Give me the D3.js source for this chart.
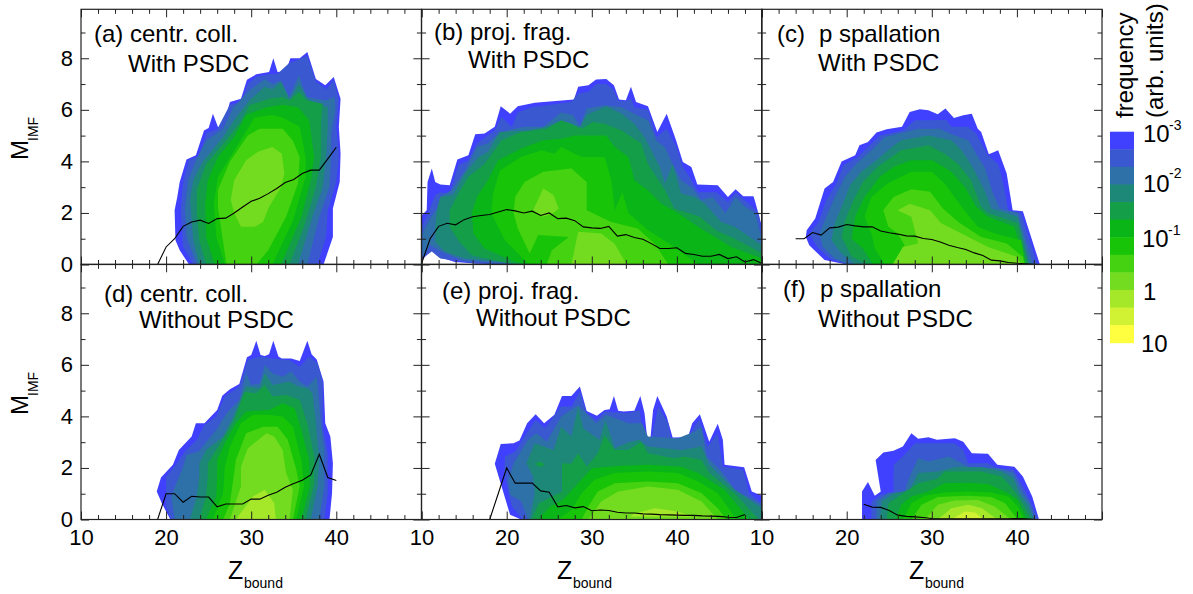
<!DOCTYPE html>
<html>
<head>
<meta charset="utf-8">
<script src="https://cdn.jsdelivr.net/npm/d3@7"></script>
<style>
  body { margin: 0; background: #fff; }
  text { font-family: "Liberation Sans", Arial, sans-serif; fill: #000; }
</style>
</head>
<body>
<div class="chart"></div>
<script>
// band colours, lowest frequency first
const levelColors = ['#4040ff','#3a58d0','#2e70a8','#1e8878','#149e48','#0ab518','#18c408','#45d210','#74dc20','#a5e82a','#d0f232','#ffff40']

// contour outlines per panel, [Zbound, MIMF]
const contoursA = [
  [[22.7,0],[21.6,.55],[21.1,.94],[21,2.1],[21.3,2.6],[21.6,3.2],[22.4,4.07],[23.5,4.24],[24.45,5.2],[25,5.3],[25.5,5.85],[26.1,5.33],[26.7,5.33],[27.5,6.3],[28.8,6.43],[29.5,7.17],[30.6,7.38],[32.1,7.47],[32.6,8],[33.1,7.47],[34.1,7.5],[34.6,8],[35.7,8],[36.6,8.24],[37.6,7.2],[38.7,6.95],[39.7,7.27],[40.5,6.43],[40.3,5.34],[40.5,4.3],[40.4,3.2],[39.6,2.17],[39.6,1.07],[38.5,0]],
  [[23.2,0],[22,.68],[21.7,2.1],[22,3.2],[22.7,4.05],[23.8,4.2],[24.8,5.1],[26,5.25],[27.5,6.2],[28.8,6.3],[29.6,7],[30.6,7.28],[32.1,7.38],[33.1,7.4],[34.4,7.8],[36.6,8.1],[37.6,7.1],[38.8,6.8],[39.7,7.15],[40.3,6.4],[40,5.34],[40.3,4.2],[40,3.2],[39,2.1],[38.8,1.07],[37.8,0]],
  [[23.6,0],[22.4,1.07],[22.2,2.2],[22.6,3.27],[23.5,4.04],[24.7,4.8],[26.7,5.27],[27.9,6.1],[29.8,6.75],[31.6,7.2],[32.5,7],[33.5,7.14],[34.5,6.5],[35.6,7.34],[36.5,6.5],[38.8,6.37],[39.8,6.5],[39.9,6],[39.4,5.08],[39.4,4.17],[39.2,3],[38,1.85],[36.6,0]],
  [[23.9,0],[23.2,.94],[22.8,2.5],[23.2,3.27],[24.3,4],[26.7,4.95],[28.2,5.7],[29.8,6.37],[31.6,6.9],[32.5,6.8],[33.5,7.08],[34.5,6.4],[35.6,7],[36.7,6.4],[39,6.1],[39,5.34],[38.8,4.17],[38.4,3],[37.2,1.85],[35.5,0]],
  [[24.7,0],[23.9,.94],[23.6,2],[23.6,2.9],[24.7,3.9],[27,4.8],[28.6,5.46],[29.8,6.18],[32.1,6.43],[33.7,6.5],[34.5,6.37],[35.6,6.7],[36.5,6.37],[38.4,6.24],[38.2,5.6],[38.2,4.17],[37.6,3],[36.2,1.46],[34.5,0]],
  [[25.7,0],[24.7,1.07],[24.6,2.36],[24.9,3.27],[26.1,4.17],[28,4.95],[29.4,5.8],[31.8,6.1],[33.7,6.2],[35.5,6.1],[36.8,5.6],[37.4,4.17],[37,3.27],[35.9,1.85],[33.5,0]],
  [[26.9,0],[25.9,1.07],[25.6,2.36],[26.1,3.4],[27.3,4.04],[29,4.95],[30.4,5.7],[32.5,5.8],[33.7,5.7],[35.7,5.34],[36.4,4.17],[36.4,3.4],[34.9,1.7],[32.5,0]],
  [[27.1,0],[26.1,2.2],[26.1,2.9],[27.5,4],[29.6,5],[31,5.27],[33.7,5.27],[34.9,4.8],[35.7,4.17],[35.5,3.14],[34.1,1.85],[32,.55],[30.6,0]],
  [[28.8,1.46],[28,2],[27.6,2.5],[28,3.27],[29.4,4.04],[30.8,4.37],[32.5,4.56],[33.6,4.3],[33.9,3.53],[33.5,3],[32.1,2.24],[31.4,1.65],[30.4,1.46],[29.6,1.46]]
]
const contoursB = [
  [[10,.17],[11.2,.55],[12,.3],[13.9,.1],[16.3,.04],[20,0],[50,0],[50,1.46],[49.2,2.43],[49,2.65],[47.8,2.65],[46.9,2.92],[46,2.62],[44.8,3.07],[42.4,3.1],[41.7,3.78],[40.7,3.98],[39.9,4.82],[38.8,5.85],[37.7,5.14],[36.6,6.14],[35.2,6.3],[34.6,6.9],[34,6.37],[33.2,6.4],[32.6,6.95],[31.7,7.2],[30.5,7.18],[29.6,6.95],[28.4,6.9],[27.9,6.4],[23.3,6.27],[21.3,6.14],[20.4,5.85],[19.3,6.14],[18.6,5.34],[17.4,5.08],[16.3,5.05],[15.5,4.24],[14.2,4.07],[13.3,3.07],[12.2,3.1],[11.6,3.2],[11.2,3.72],[10.7,3.2],[10.6,2.1],[10,1.9]],
  [[10,.23],[11.2,.5],[12.2,.23],[16.3,.04],[22.5,0],[50,0],[50,1.2],[49.6,2],[48.2,2.43],[46.9,2.78],[46,2.43],[44.6,2.8],[42.5,2.8],[41.3,3.5],[40.7,3.78],[39.9,4.6],[38.8,5.27],[37.6,4.95],[36.6,6],[35,6.1],[34.6,6.43],[34,6.34],[33.1,6.37],[32.5,6.8],[31.7,7],[30.5,7],[29.6,6.7],[28.4,6.63],[27.6,6.3],[22.9,6.1],[21.3,5.9],[20.6,5.34],[19.4,5.72],[18.6,5.2],[16.5,4.7],[15.5,4.04],[14.3,3.85],[13.3,2.75],[12.2,2.8],[11.6,2.7],[10.6,1.85],[10,1.46]],
  [[10.1,.3],[11,.75],[12.3,.5],[14.7,.17],[20.6,0],[50,0],[50,.94],[49.2,2],[48,2.24],[46.9,2.62],[45.7,2],[44.2,2.62],[42.9,2.5],[41.7,3],[40.5,3.27],[39.5,3.9],[38.6,4.56],[37.6,4.8],[36.6,5.6],[35,5.85],[33.5,6.1],[31.5,6.18],[29.4,6.05],[28.6,5.34],[27.8,5.8],[26.4,5.9],[24.3,5.34],[22.1,5.34],[19.2,5.14],[17.8,4.7],[16.5,4.56],[15.1,3.65],[13.5,2.88],[12.2,2.62],[11.8,2.17],[11,1.78],[10.1,1.2]],
  [[11.6,.88],[12.7,.5],[15.1,.23],[19.4,.1],[21,0],[50,0],[50,.75],[46.8,1.46],[45.2,1.65],[43.3,2.36],[42.1,2.62],[40.5,2.75],[39.5,3.9],[38.6,3.14],[38,3.78],[36.2,4.95],[35,5.46],[33.5,5.85],[31.7,6.14],[29.4,5.8],[28.6,5.34],[27.6,5.34],[26,5.53],[24.7,5.34],[22.5,5.2],[19.2,5.14],[17.8,4.37],[16.7,4.17],[15.1,3.53],[13.7,2.7],[12.2,2.62],[11.8,2.1],[11.6,1.46]],
  [[14.3,.94],[15.9,.36],[19.4,.1],[21.7,0],[50,0],[50,.44],[46.8,1],[44.6,1.33],[42.7,1.85],[39.7,2.17],[38.6,2.88],[36.6,3.9],[35.8,4.7],[33.5,5.2],[31.5,5.46],[30.1,5.53],[28.8,5.27],[27.6,5.46],[26.4,5.6],[24.7,5.27],[21.7,5.14],[19.4,4.82],[17.4,3.9],[15.5,3.4],[14.1,2.62],[13.3,2.1],[13.3,1.46]],
  [[16.1,1.2],[17.4,.62],[21,.1],[22.5,0],[50,0],[50,.23],[46.4,.68],[42.8,1.4],[40.1,2],[38.2,2.36],[36.6,2.88],[35,3.27],[34.3,4.17],[32.7,4.56],[31.7,5],[28,5],[26.4,4.88],[24.3,4.82],[21.7,4.5],[19,4.04],[17.8,3.27],[16.5,2.62],[15.9,2]],
  [[18.2,2],[19.8,.94],[22.5,.04],[22.7,0],[42.5,0],[39.7,.68],[36.6,1.33],[34.3,2],[33.6,2.8],[32.7,2.1],[32.3,3.27],[31.5,4.17],[28.8,4.17],[26.4,4.56],[25.6,4.3],[24.1,4.43],[21.7,4.17],[19.2,3.65],[18.4,2.75]],
  [[21.3,1.4],[20.8,2],[21,2.62],[22.1,3.2],[24.3,3.6],[27.6,3.72],[29.4,3.2],[29.4,2.1],[32.3,1.65],[35.4,1.4],[37.4,.8],[39,0],[24.7,0],[25.3,.55],[27.3,1.07],[23.7,1.14],[22.7,.43]],
  [[24.3,2.95],[25.5,2.7],[26.1,2.17],[25.5,2],[24.3,1.85],[23.1,2.1]]
]
// second lobe of the ninth band in panel (b)
const lobeB = [[27.6,0],[28.4,1.27],[31.1,1.2],[32.7,.8],[34.1,0]]
const contoursC = [
  [[20,0],[17.4,.17],[15.6,.75],[15.2,1.07],[15.3,1.33],[16.3,1.78],[17.4,2.95],[18.4,3.2],[19.4,4],[21,4.24],[21.5,4.63],[22.5,4.75],[23.5,5.12],[24.7,5.25],[26.5,5.34],[27.4,5.92],[28.6,6.02],[29.6,5.98],[30.7,5.83],[31.6,6.05],[32.6,5.68],[33.7,5.79],[34.7,5.85],[35.4,5.27],[35.8,5.14],[36.7,4.28],[37.8,4.43],[38.8,3.53],[39.5,2.1],[40.7,2.07],[42.7,0]],
  [[20,0],[18,.23],[16.5,.68],[15.6,1.2],[16.7,1.65],[17.6,2.5],[18.8,3.14],[19.6,3.85],[21.3,4.17],[22.7,4.63],[23.9,5],[26.6,5.2],[28,5.6],[30,5.6],[31.7,5.62],[32.3,5.34],[34.3,5.34],[35.2,5.08],[36.6,4.24],[37.8,3.9],[38.4,3.14],[39,2.1],[40.5,2],[42.4,0]],
  [[20.2,0],[18.6,.23],[17.2,.68],[16.8,1.2],[17.6,1.85],[18.6,2.62],[19.8,3.4],[21.1,3.9],[22.9,4.43],[24.5,4.95],[28.4,5.27],[30.9,5.27],[32.7,5],[34.3,4.82],[35.2,4.3],[36.2,3.78],[37.2,2.75],[38,2.17],[40.1,2],[41.9,0]],
  [[21,0],[19.4,.43],[18.2,.94],[18.6,1.6],[19.4,2.24],[20.4,3.07],[21.7,3.6],[23.5,4.04],[25.3,4.56],[26.4,4.82],[29.6,5],[32.3,4.82],[33.5,4.43],[34.6,3.9],[36.2,2.88],[37,2.17],[40.1,1.85],[41.5,0]],
  [[22.5,0],[20.6,.3],[19.4,1.07],[19.8,1.7],[20.8,2.5],[21.9,3.2],[23.6,3.78],[26.4,4.43],[29.6,4.63],[31.5,4.3],[33.1,3.9],[34.6,3.27],[35.8,2.24],[36.6,2],[40.1,1.6],[41.3,0]],
  [[23.1,0],[21.9,.62],[20.6,1],[21,1.85],[22.1,2.62],[23.9,3.4],[25.6,3.8],[27.6,4.04],[30.1,4.04],[32.3,3.6],[33.9,3],[35.2,2.24],[36.6,1.85],[39.7,1.46],[41.1,0]],
  [[24.5,0],[23.3,.62],[22.9,1.2],[22.1,1.85],[22.9,2.62],[24.8,3.14],[27.6,3.6],[30,3.6],[31.5,3.14],[33.5,2.24],[35.4,1.46],[37.4,1.2],[40.5,.94],[41,0]],
  [[24.3,2.1],[25.5,2.62],[27.6,2.92],[29.8,2.82],[31.3,2.17],[33.1,1.65],[35.8,1.07],[38.8,.81],[40.7,.3],[40.9,0],[25.4,0],[26.8,.75],[26,1.2],[24.9,1.46]],
  [[26,2.1],[27.4,2.36],[29.8,2.1],[31.1,1.6],[33.5,1.2],[36.6,.68],[40,.3],[40.5,0],[25.4,0],[26.6,.68],[28.4,.81],[28,1.33],[27.6,1.85]]
]
const contoursD = [
  [[20.5,0],[19.5,.63],[18.9,1.09],[19.4,1.63],[20.8,2.12],[21.5,2.7],[23,3.22],[23.5,3.73],[24.5,3.73],[26,4.25],[26.6,4.8],[27.5,5.05],[28.6,5.26],[29.5,6.29],[30,6.38],[30.6,6.93],[31.1,6.38],[31.6,6.34],[32.1,6.41],[32.6,6.93],[33.2,6.32],[33.6,6.25],[34.7,6.25],[35.7,6.15],[36.6,6.93],[37.1,6.41],[37.7,6.21],[38.5,5.35],[38.7,3.73],[39.3,3.22],[39.6,2.18],[39.5,1.02],[39.2,0]],
  [[20.6,0],[20,.5],[20,1.15],[20,1.67],[21.3,2.18],[22.2,2.64],[23.6,3.09],[24.5,3.67],[25.9,4],[26.9,4.77],[28.6,5.16],[29.6,6.19],[31,6.32],[32.5,6.25],[34.5,6.19],[35.7,5.93],[36.8,6.32],[37.8,6.06],[38.4,5.35],[38.4,3.6],[39,2.57],[39,1.02],[38.6,0]],
  [[21,0],[20.6,.89],[21.2,1.41],[22,2.05],[22.4,2.5],[23.8,2.64],[25.9,3.48],[27.1,4.12],[28.6,4.64],[29.4,5.67],[30,5.22],[31,5.28],[31.6,5.99],[32.5,5.67],[33.7,5.54],[34.7,5.74],[35.7,5.35],[36.6,5.16],[37.7,5.54],[37.9,4.9],[38.2,3.73],[38.6,2.7],[38.6,1.28],[38,0]],
  [[22.8,0],[23.6,.89],[23.9,1.67],[23.9,2.18],[24.7,2.7],[26.7,3.22],[27.9,4],[29.4,5.16],[31,5.09],[31.6,5.67],[32.5,5.22],[34.5,5.35],[35.5,5.16],[36.6,5.09],[37.2,4.9],[37.6,3.73],[38,2.31],[37.8,1.28],[37,0]],
  [[23.9,0],[24.7,.89],[24.9,1.67],[24.9,2.18],[27.1,3.35],[28,3.86],[29,4.77],[29.2,4.96],[30.6,4.9],[31.6,5.22],[32.5,4.77],[34.1,4.83],[35.7,4.64],[36.6,3.73],[37.4,2.44],[37.4,1.41],[36.4,0]],
  [[24.7,0],[25.9,.89],[26,1.8],[26,2.31],[27.1,3.09],[28.2,3.73],[29.4,4.19],[32.1,4.25],[33.7,4.51],[35.1,4.32],[35.9,3.48],[36.8,2.31],[36.9,1.28],[35.9,0]],
  [[25.5,0],[26.7,1.02],[26.9,2.05],[27.5,2.83],[28.8,3.73],[30.2,4.06],[32,4.06],[33.7,4],[34.9,3.6],[35.9,2.31],[36.2,1.28],[35.3,0]],
  [[26.7,0],[27.5,.63],[28,1.8],[28.2,2.31],[29.4,3.35],[31.4,3.6],[33.1,3.6],[34.3,3.09],[35.3,1.93],[35.7,1.28],[34.9,0]],
  [[27.5,0],[28.8,1.28],[28.8,2.05],[29.6,2.76],[31.8,3.35],[32.7,3.22],[33.7,2.7],[34.1,1.8],[34.9,1.15],[34.5,0]],
  [[28.2,0],[30.2,.89],[31.6,1.15],[32.7,.63],[32.9,0]]
]
const contoursE = [
  [[21.7,0],[20.4,.18],[18.6,2.16],[19.3,2.93],[20.8,2.96],[21.5,3.06],[22.4,3.73],[23.4,4.08],[24.4,3.73],[25.6,4.06],[26.5,4.79],[27.6,4.79],[28.6,5.16],[29.4,4.21],[30.6,4.02],[31.5,4.25],[32.1,4.28],[32.6,4.79],[33.1,4.22],[33.7,4.19],[35,4.22],[35.7,4.79],[36.2,4.12],[36.5,3.18],[36.9,3.18],[37.2,4.25],[37.7,4.79],[38.8,4],[39.5,3.18],[41.3,3.19],[41.8,3.73],[42.7,4.08],[43.8,3.02],[44.8,3.71],[45.4,3.09],[45.6,2.12],[47.9,2.03],[48.8,1.09],[50,.92],[50,0]],
  [[21.9,0],[20.6,.5],[19.7,1.8],[19.8,2.44],[21,2.64],[22.1,3.22],[23.4,3.86],[24.5,3.54],[26.4,4.38],[27.6,4.38],[28.6,4.96],[29.4,4.12],[30.6,3.86],[31.5,4.19],[34.3,4.12],[35.6,4.25],[36.2,3.09],[37,3.09],[37.8,4.38],[39,3.73],[39.3,3.09],[41.1,3.09],[42.6,3.86],[43.6,2.83],[44.8,3.35],[45.4,2.05],[47.8,1.93],[48.5,1.02],[50,.63],[50,0]],
  [[22.5,0],[21.7,.7],[20.4,.96],[20.2,1.54],[20.8,2.18],[22.5,3.09],[23.5,3.35],[24.7,3.02],[26.4,4],[28.4,4.44],[30.5,3.73],[31.7,4.06],[34.3,3.73],[35.9,3.73],[36.6,3.22],[40.1,3.15],[42.1,3.41],[42.9,3.6],[43.5,2.44],[45.4,1.8],[46.8,1.15],[50,.57],[50,0]],
  [[22.7,0],[23.3,1.02],[23.1,1.67],[22.3,2.18],[23.3,2.96],[25.5,2.7],[26.4,3.6],[27.6,3.22],[28.4,4.38],[29,3.54],[30.9,3.09],[31.6,3.86],[32.7,2.76],[34.3,3],[35.6,3.09],[36.6,2.83],[40.5,2.7],[42.9,2.83],[43.8,2.12],[45.4,1.6],[46.8,1.15],[50,.44],[50,0]],
  [[22.9,0],[23.8,.63],[26.5,1.09],[26.5,2.18],[27.6,2.16],[28.4,2.57],[29.4,2.05],[30.7,2.57],[31.5,3.28],[32.7,2.7],[34.3,2.7],[35.8,3.02],[36.6,2.57],[39.7,2.38],[40.9,2.44],[42.9,2.31],[43.8,1.8],[46.8,1.02],[49.6,0]],
  [[23.7,0],[25.1,.5],[26.6,.76],[28.4,1.41],[30,1.99],[33.1,2.08],[36.6,2.12],[40.5,2.05],[42.5,1.8],[45.6,1.15],[48.5,0]],
  [[26,0],[27.6,.37],[28.8,1.02],[30.3,1.54],[32.7,1.8],[36.6,1.86],[40.1,1.8],[42.5,1.47],[44.8,1.02],[47,0]],
  [[28.8,0],[29.6,.5],[30.7,1.09],[32.7,1.41],[36.6,1.47],[40.1,1.41],[42.9,1.02],[44.8,.44],[45.8,0]],
  [[29.6,0],[31.1,.7],[33.1,1.09],[36.6,1.28],[40.1,1.15],[42.9,.7],[44.8,0]],
  [[34.5,.12],[35,.22],[37.4,.44],[40.1,.31],[41.7,.12]]
]
// small spot of the fifth band inside panel (e)
const spotE = [[23.3,2.16],[23.9,2.25],[24.5,2.12],[23.9,2.03]]
const contoursF = [
  [[21.8,0],[21.8,1.09],[22.5,1.45],[23.3,.92],[24,1.09],[23.4,2.31],[24.3,2.6],[25.5,2.67],[26.6,2.83],[27.6,3.35],[28.4,3.13],[29.6,3.19],[30.6,3.09],[32.7,3.15],[33.7,3.02],[34.7,2.57],[36.6,2.55],[37.7,2.12],[39.7,2.05],[40.7,1.67],[41.8,.89],[42.6,0]],
  [[22.9,0],[22.9,.7],[24,.96],[25.5,1.09],[25.5,2.12],[26.6,2.44],[28,2.96],[32.7,2.96],[33.7,2.7],[34.3,2.18],[36.6,2.18],[37.7,1.99],[39.6,1.93],[40.7,1.28],[41.7,.63],[42.5,0]],
  [[23.5,0],[23.5,.7],[24.9,1.02],[26.8,1.09],[27.4,1.67],[28.4,2.38],[29.6,2.25],[32,2.44],[34.3,2.05],[37.8,1.99],[39.6,1.8],[40.5,1.15],[41.5,.63],[42.2,0]],
  [[23.9,0],[24.1,.7],[25.6,1.02],[27.4,1.15],[28.4,1.8],[30.7,1.86],[32.7,2.03],[35.8,2.03],[38.2,1.86],[39.6,1.6],[40.3,1.02],[41.3,.57],[42,0]],
  [[24.7,0],[24.9,.63],[26.4,.96],[28.4,1.41],[30.7,1.58],[31.5,1.86],[35.8,1.86],[38.2,1.67],[39.3,1.28],[39.9,1.02],[40.9,.5],[41.7,0]],
  [[25.8,0],[26.4,.57],[27.6,.89],[29.6,1.09],[31.5,1.41],[34.3,1.43],[36.6,1.38],[39,1.02],[40.1,.76],[41.2,0]],
  [[26.6,0],[27.6,.63],[29.2,.92],[31.5,1.05],[34.3,1.09],[37,1.05],[39,.89],[40.1,.5],[40.9,0]],
  [[27.6,0],[28.8,.57],[30.7,.87],[34.3,.92],[37,.87],[38.6,.63],[40.1,0]],
  [[29.2,0],[30.7,.57],[32.7,.74],[35.4,.76],[37.4,.5],[39.3,0]],
  [[30.7,0],[32.3,.44],[34.3,.57],[35.9,.44],[37.7,0]],
  [[32.3,0],[33.9,.31],[35.1,.27],[36.1,0]]
]

// mean multiplicity lines
const meanZA = [19,20,21,22,23,24,25,26,27,28,29,30,31,32,33,34,35,36,37,38,39,40]
const meanMA = [0,.68,1,1.48,1.65,1.72,1.59,1.78,1.8,2,2.23,2.45,2.57,2.75,2.95,3.18,3.3,3.53,3.66,3.66,4.1,4.55]
const meanZB = [10,11,12,13,14,15,16,17,18,19,20,21,22,23,24,25,26,27,28,29,30,31,32,33,34,35,36,37,38,39,40,41,42,43,44,45,46,47,48,49,50]
const meanMB = [.04,1,1.48,1.6,1.54,1.74,1.85,1.9,1.94,2.04,2.13,2.08,2,2.07,1.9,2,1.78,1.8,1.7,1.46,1.42,1.4,1.48,1.1,1.16,1.05,.98,.81,.62,.62,.65,.43,.39,.32,.32,.39,.23,.3,.1,.19,.04]
const meanZC = [14,15,16,17,18,19,20,21,22,23,24,25,26,27,28,29,30,31,32,33,34,35,36,37,38,39,40,41,42]
const meanMC = [1,1,1.24,1.14,1.42,1.45,1.55,1.5,1.46,1.46,1.3,1.23,1.18,1.11,1.1,1.01,.97,.87,.75,.66,.58,.45,.35,.17,.14,.08,.05,.03,.01]
const meanZD = [19,20,21,22,23,24,25,26,27,28,29,30,31,32,33,34,35,36,37,38,39,40]
const meanMD = [0,1,1,.67,.9,.87,.87,.49,.6,.6,.6,.79,.79,.94,1.06,1.25,1.4,1.52,1.73,2.53,1.63,1.51]
const meanZE = [18,19,20,21,22,23,24,25,26,27,28,29,30,31,32,33,34,35,36,37,38,39,40,41,42,43,44,45,46,47,48]
const meanME = [0,1,2,1.41,1.41,1.41,1.11,1.06,.49,.54,.45,.5,.34,.37,.35,.28,.25,.25,.22,.21,.19,.18,.17,.16,.16,.14,.13,.12,.09,.08,.19]
const meanZF = [22,23,24,25,26,27,28,29,30,31,32,33,34,35,36,37,38,39,40,41,42]
const meanMF = [.59,.48,.47,.35,.17,.12,.1,.08,.04,.03,.03,.03,.03,.03,.03,.03,.03,.03,.04,.03,.01]

const xMajor = [10,20,30,40,50]
const xMinor = [12,14,16,18,22,24,26,28,32,34,36,38,42,44,46,48]
const yMajor = [0,2,4,6,8]
const yMinor = [1,3,5,7,9]
const xLabels = [10,20,30,40]

const legendLevels = d3.range(levelColors.length)

const width = 1193, height = 594
const svg = d3.select(".chart").append("svg")
  .attr("width", width)
  .attr("height", height)
  .style("display", "block")

const colLeft = [81, 421.6, 761.6]
const panelW = 340.4
const rowTop = [9.3, 264.3]
const panelH = 255.2

function textAt(x, y, str, size, rot) {
  const t = svg.append("text").attr("font-size", size).text(str)
  if (rot) t.attr("transform", `translate(${x},${y}) rotate(-90)`)
  else t.attr("x", x).attr("y", y)
  return t
}

function addTicks(g, axis, tx, ty, size) {
  g.append("g")
    .attr("transform", `translate(${tx},${ty})`)
    .call(axis.tickSize(size).tickSizeOuter(0).tickFormat(""))
    .call(a => a.select(".domain").remove())
    .call(a => a.selectAll("line").attr("stroke", "#222").attr("stroke-width", 1))
}

function drawPanel(col, row, contours, meanZ, meanM, extra, extraLevel) {
  const left = colLeft[col], top = rowTop[row]
  const x = d3.scaleLinear().domain([10, 50]).range([left, left + panelW])
  const y = d3.scaleLinear().domain([0, 9.9]).range([top + panelH, top])
  const g = svg.append("g")
  const area = d3.line().x(d => x(d[0])).y(d => y(d[1]))

  g.selectAll(".band")
    .data(contours)
    .enter()
    .append("path")
    .attr("d", d => area(d) + "Z")
    .attr("fill", (d, i) => levelColors[i])

  if (extra) {
    g.append("path").attr("d", area(extra) + "Z").attr("fill", levelColors[extraLevel])
  }

  g.append("path")
    .datum(meanZ.map((z, i) => [z, meanM[i]]))
    .attr("d", area)
    .attr("fill", "none")
    .attr("stroke", "#000")
    .attr("stroke-width", 1.1)

  // ticks point into the panel on all four sides
  const sides = [
    [() => d3.axisBottom(x), 0, top + panelH, xMajor, xMinor],
    [() => d3.axisTop(x), 0, top, xMajor, xMinor],
    [() => d3.axisLeft(y), left, 0, yMajor, yMinor],
    [() => d3.axisRight(y), left + panelW, 0, yMajor, yMinor]
  ]
  sides.forEach(s => {
    addTicks(g, s[0]().tickValues(s[3]), s[1], s[2], -8)
    addTicks(g, s[0]().tickValues(s[4]), s[1], s[2], -4.5)
  })

  g.append("rect")
    .attr("x", left).attr("y", top)
    .attr("width", panelW).attr("height", panelH)
    .attr("fill", "none")
    .attr("stroke", "#222")
    .attr("stroke-width", 1.2)

  if (col == 0) {
    g.append("g")
      .attr("transform", `translate(${left},0)`)
      .call(d3.axisLeft(y).tickValues(yMajor).tickSize(0).tickPadding(8))
      .call(a => a.select(".domain").remove())
      .call(a => a.selectAll("text").attr("font-size", 22).attr("font-family", '"Liberation Sans", Arial, sans-serif'))
  }
  if (row == 1) {
    g.append("g")
      .attr("transform", `translate(0,${top + panelH})`)
      .call(d3.axisBottom(x).tickValues(xLabels).tickSize(0).tickPadding(10))
      .call(a => a.select(".domain").remove())
      .call(a => a.selectAll("text").attr("font-size", 22).attr("font-family", '"Liberation Sans", Arial, sans-serif'))
  }
}

drawPanel(0, 0, contoursA, meanZA, meanMA)
drawPanel(1, 0, contoursB, meanZB, meanMB, lobeB, 8)
drawPanel(2, 0, contoursC, meanZC, meanMC)
drawPanel(0, 1, contoursD, meanZD, meanMD)
drawPanel(1, 1, contoursE, meanZE, meanME, spotE, 4)
drawPanel(2, 1, contoursF, meanZF, meanMF)

// panel captions
textAt(94, 42, "(a) centr. coll.", 24)
textAt(128, 72, "With PSDC", 24)
textAt(434, 40, "(b) proj. frag.", 24)
textAt(468, 68, "With PSDC", 24)
textAt(777, 42, "(c)", 24)
textAt(819, 42, "p spallation", 24)
textAt(818, 71, "With PSDC", 24)
textAt(104, 302, "(d) centr. coll.", 24)
textAt(139, 328, "Without PSDC", 24)
textAt(442, 299, "(e) proj. frag.", 24)
textAt(476, 326, "Without PSDC", 24)
textAt(783, 297, "(f)", 24)
textAt(820, 297, "p spallation", 24)
textAt(818, 327, "Without PSDC", 24)

// axis titles
const zTitles = [228, 557, 909]
zTitles.forEach(x0 => {
  textAt(x0, 579, "Z", 25)
  textAt(x0 + 16, 588, "bound", 14)
})
const mTitles = [0, 255]
mTitles.forEach(dy => {
  textAt(28, 160 + dy, "M", 24, true)
  textAt(38, 141 + dy, "IMF", 14, true)
})

// colour legend
const legendBand = d3.scaleBand().domain(legendLevels).range([131.7, 342.7])
svg.selectAll(".legend")
  .data(legendLevels)
  .enter()
  .append("rect")
  .attr("x", 1110)
  .attr("y", d => legendBand(d))
  .attr("width", 24)
  .attr("height", legendBand.bandwidth() + .5)
  .attr("fill", d => levelColors[d])

textAt(1133, 118, "frequency", 24, true)
textAt(1163, 118, "(arb. units)", 24, true)
textAt(1143, 142, "10", 24)
textAt(1169, 130, "-3", 14)
textAt(1143, 192, "10", 24)
textAt(1169, 178, "-2", 14)
textAt(1142, 247, "10", 24)
textAt(1168, 235, "-1", 14)
textAt(1143, 300, "1", 24)
textAt(1141, 352, "10", 24)
</script>
</body>
</html>
